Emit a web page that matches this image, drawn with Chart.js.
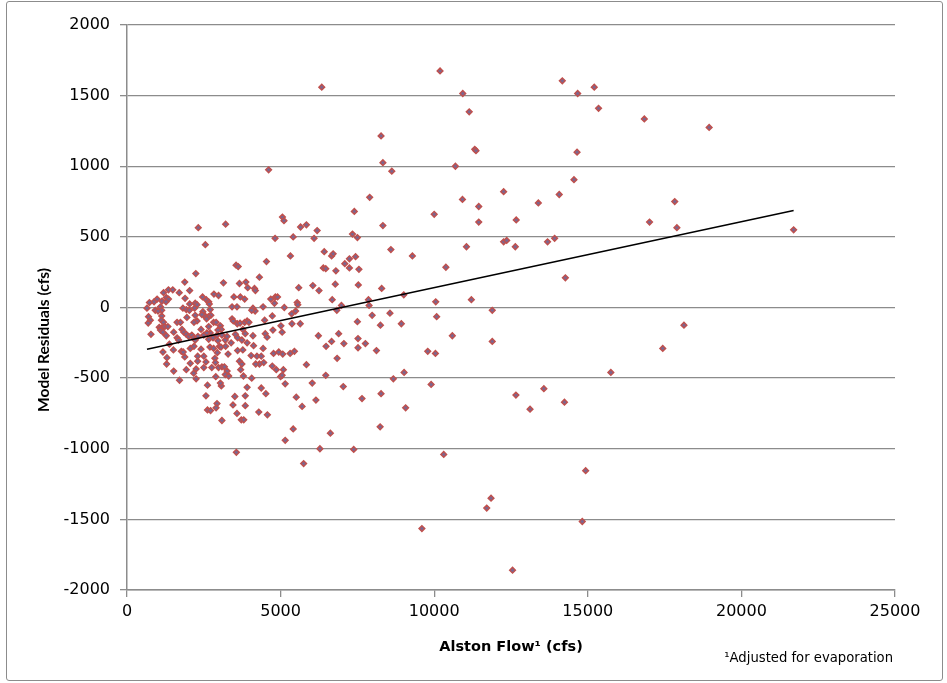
<!DOCTYPE html>
<html>
<head>
<meta charset="utf-8">
<script src="https://cdn.jsdelivr.net/npm/chart.js@4.4.1/dist/chart.umd.min.js"></script>
<style>
  body { margin: 0; background: #fff; }
  #wrap { position: relative; width: 947px; height: 683px; }
  #frame { position: absolute; left: 6px; top: 1px; width: 937px; height: 680px;
           box-sizing: border-box; border: 1px solid #8c8c8c; border-radius: 3px; pointer-events: none; }
</style>
</head>
<body>
<div id="wrap">
  <canvas id="residuos" width="947" height="683"></canvas>
  <div id="frame"></div>
</div>
<script>
// Alston flow (cfs) and model residual (cfs), one entry per observation
const alstonFlow = [
  2550,3550,3620,4540,2240,4310,1880,3140,3660,3870,
  1190,1350,1490,1700,2040,2460,2580,2830,2980,3930,4150,4180,4830,4900,4680,
  880,730,980,1140,1280,1350,1270,1890,2220,2280,2040,2660,2680,3480,3690,3830,4800,
  650,920,1090,1130,1010,1820,1930,2030,2200,2470,2710,2730,2650,2540,2590,3420,3580,4100,4170,4060,4430,5120,
  700,760,690,1130,1120,1190,1050,1120,1230,1330,1630,1740,1950,2220,2280,2180,2440,2820,2900,3040,
  3070,2960,2660,2710,3420,3460,3590,3680,3830,3910,3970,4480,4730,5010,
  780,1280,1090,1170,1520,1630,1680,1790,1850,1930,2010,2110,2170,2220,2310,2410,2500,2600,2660,2800,
  2930,2960,3090,3200,3260,3390,3530,3600,3740,3770,3850,4100,4120,4500,4560,4750,5050,
  1170,1380,1510,1770,1880,1830,2060,2180,2300,2410,2500,2700,2820,3010,2940,2860,3060,3210,3290,3600,
  3770,3910,4040,4230,4370,4430,4450,4310,4190,4770,4940,5070,
  1300,1290,1520,1710,1930,2060,2170,2250,2250,2300,2500,2570,2760,2880,2890,2980,3090,3170,3260,3200,
  3310,3660,3740,3700,3790,4060,4730,4860,5000,5090,5050,5150,
  2620,3070,3040,2570,2620,2720,2930,2900,3090,3510,3850,3910,4370,4520,3450,3580,3720,3800,3850,4290,4570,
  5320,6420,6660,6710,7090,7240,7440,7240,6390,6470,6800,7550,8590,9290,
  6050,5590,6250,6780,7530,8290,6680,5540,5560,
  5360,5490,5370,5640,6980,6830,7860,7880,7980,7500,8250,8560,8930,9010,10050,10080,
  6230,6660,6480,6890,7060,7520,7520,7760,8120,6840,5310,5450,5840,
  6470,6030,7040,6150,5510,5700,7650,8270,8670,9020,9790,10040,9900,9070,5410,6620,8240,
  6340,8270,8330,8620,4610,7900,7400,2320,3210,5060,5110,5650,5840,6190,7340,7500,8330,4820,5410,6090,
  5150,3560,5750,6280,7380,9600,
  10190,10930,11140,11320,11360,10690,14170,14670,15210,15350,16840,18950,14650,14550,10000,10920,11450,11450,12260,12670,
  13390,14070,11050,12260,12360,12640,13690,13920,17830,17010,17900,
  10380,14270,11210,11890,10590,11890,18130,17440,15750,12660,13570,13120,14240,10310,14930,11850,11710,14820,12550,21700
];

const residuals = [
  445,300,290,325,240,215,180,175,170,180,
  105,125,125,105,120,75,55,95,85,140,135,120,75,75,60,
  40,35,60,45,70,60,40,65,30,20,25,40,25,75,75,60,30,
  -5,-20,5,-20,-25,-5,-15,-20,-5,-30,-15,-55,-65,-60,-80,5,5,-5,-25,-20,5,0,
  -65,-90,-110,-60,-90,-105,-140,-145,-135,-135,-105,-105,-70,-55,-95,-105,-50,-105,-105,-130,
  -155,-160,-135,-180,-80,-95,-115,-110,-105,-95,-105,-90,-60,-130,
  -190,-200,-160,-175,-175,-215,-230,-155,-175,-190,-205,-195,-215,-230,-205,-155,-195,-180,-225,-215,
  -195,-235,-195,-230,-205,-250,-190,-215,-230,-155,-185,-200,-270,-185,-210,-160,-175,
  -315,-260,-300,-310,-350,-315,-290,-275,-345,-295,-345,-280,-290,-275,-320,-360,-280,-275,-330,-305,
  -300,-250,-340,-345,-345,-290,-390,-400,-400,-325,-315,-330,
  -355,-400,-450,-515,-440,-395,-465,-435,-505,-380,-425,-385,-425,-390,-490,-425,-420,-420,-450,-475,
  -485,-380,-400,-440,-485,-500,-415,-440,-490,-440,-480,-540,
  -550,-555,-535,-625,-725,-730,-680,-710,-800,-630,-625,-565,-570,-610,-690,-750,-795,-795,-695,-740,-760,
  365,395,365,380,310,345,360,280,280,275,260,270,410,365,
  155,140,120,165,160,135,55,35,20,
  -45,-25,-115,-115,15,-20,55,15,-55,-100,-125,-40,-115,90,40,-65,
  -200,-240,-275,-185,-255,-220,-285,-255,-305,-360,-325,-310,-405,
  -480,-535,-560,-655,-635,-700,-645,-610,-505,-460,-310,-325,-545,-710,-860,-890,-845,
  1560,1215,1025,965,975,780,680,565,590,640,615,570,585,545,520,495,580,490,500,490,
  -940,-1025,-1105,-1000,-1005,-1565,
  1675,1515,1385,1120,1110,1000,1605,1515,1560,1410,1335,1275,1100,905,660,765,715,605,820,620,
  740,800,430,465,475,430,465,490,750,605,565,
  285,210,55,-20,-200,-240,-125,-290,-460,-620,-575,-720,-670,-1040,-1155,-1350,-1420,-1515,-1860,550
];

// linear trend line end points
const trendFlow = [650, 21700];
const trendResidual = [-296, 686];

const xTicks = [0, 5000, 10000, 15000, 20000, 25000];
const yTicks = [-2000, -1500, -1000, -500, 0, 500, 1000, 1500, 2000];

const pontos = alstonFlow.map((x, i) => ({ x: x, y: residuals[i] }));
const tendencia = trendFlow.map((x, i) => ({ x: x, y: trendResidual[i] }));

const cinza = '#8c8c8c';

// y title and footnote
const textosExtras = {
    id: 'textosExtras',
    afterDraw(chart) {
        const ctx = chart.ctx;
        ctx.save();
        ctx.fillStyle = '#000';
        ctx.font = 'bold 15.5px Lato';
        ctx.textAlign = 'center';
        ctx.textBaseline = 'middle';
        ctx.translate(44, 340);
        ctx.rotate(-Math.PI / 2);
        ctx.fillText('Model Residuals (cfs)', 0, 0);
        ctx.restore();

        ctx.save();
        ctx.fillStyle = '#000';
        ctx.font = '13.2px "DejaVu Sans"';
        ctx.textAlign = 'right';
        ctx.textBaseline = 'alphabetic';
        ctx.fillText('\u00B9Adjusted for evaporation', 893, 662);
        ctx.restore();
    }
};

new Chart(document.getElementById('residuos'), {
    type: 'scatter',
    data: {
        datasets: [
            {
                data: tendencia,
                showLine: true,
                borderColor: '#000',
                borderWidth: 1.5,
                pointRadius: 0,
                order: 0
            },
            {
                data: pontos,
                pointStyle: 'rectRot',
                pointRadius: 2.9,
                backgroundColor: '#7b6690',
                borderColor: '#C0504D',
                borderWidth: 1.4,
                order: 1
            }
        ]
    },
    options: {
        responsive: false,
        animation: false,
        layout: { padding: { left: 0, top: 25, right: 52, bottom: 0 } },
        plugins: {
            legend: { display: false },
            tooltip: { enabled: false }
        },
        scales: {
            x: {
                type: 'linear',
                min: xTicks[0],
                max: xTicks[xTicks.length - 1],
                afterBuildTicks: s => { s.ticks = xTicks.map(v => ({ value: v })); },
                afterFit: s => { s.height = 93; },
                ticks: {
                    color: '#000',
                    font: { family: 'DejaVu Sans', size: 16 },
                    padding: 5,
                    maxRotation: 0,
                    callback: v => String(v)
                },
                grid: { drawOnChartArea: false, color: cinza, lineWidth: 1.3, tickLength: 7 },
                border: { color: cinza, width: 1.5 },
                title: {
                    display: true,
                    text: 'Alston Flow\u00B9 (cfs)',
                    color: '#000',
                    font: { family: 'DejaVu Sans', size: 14.5, weight: 'bold' },
                    padding: { top: 0, bottom: 27 }
                }
            },
            y: {
                min: yTicks[0],
                max: yTicks[yTicks.length - 1],
                afterBuildTicks: s => { s.ticks = yTicks.map(v => ({ value: v })); },
                afterFit: s => { s.width = 127; },
                ticks: {
                    color: '#000',
                    font: { family: 'DejaVu Sans', size: 16 },
                    padding: 10,
                    callback: v => String(v)
                },
                grid: { color: cinza, lineWidth: 1.3, tickLength: 7 },
                border: { color: cinza, width: 1.5 }
            }
        }
    },
    plugins: [textosExtras]
});
</script>
</body>
</html>
